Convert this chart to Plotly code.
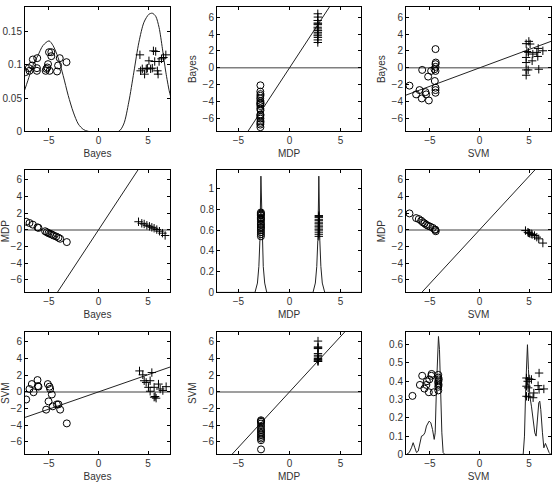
import plotly.graph_objects as go

# ---------------- data ----------------
var_names = ["Bayes", "MDP", "SVM"]

# Panel 1 (diag Bayes): density curve + jittered samples
bayes_dens_x = [-7.46, -7.12, -6.61, -6.10, -5.59, -4.98, -4.58, -4.07, -3.56, -3.05, -2.54, -2.03, -1.53, -1.02,
                2.03, 2.54, 3.05, 3.56, 4.07, 4.58, 5.08, 5.42, 5.76, 6.10, 6.44, 6.78, 7.12, 7.29]
bayes_dens_y = [0.061, 0.076, 0.099, 0.114, 0.129, 0.136, 0.129, 0.111, 0.084, 0.054, 0.029, 0.011, 0.003, 0.0,
                0.0, 0.011, 0.044, 0.089, 0.134, 0.164, 0.176, 0.1775, 0.173, 0.156, 0.124, 0.089, 0.061, 0.051]
p1_neg_x = [-7.36, -7.02, -6.68, -6.61, -6.17, -6.20, -6.20, -5.32, -5.25, -5.08, -5.15, -4.98, -4.75, -4.75, -4.92,
            -4.17, -4.07, -3.90, -3.22, -6.95]
p1_neg_y = [0.089, 0.095, 0.099, 0.108, 0.110, 0.095, 0.091, 0.091, 0.094, 0.101, 0.096, 0.119, 0.119, 0.113, 0.091,
            0.090, 0.099, 0.110, 0.104, 0.091]
p1_pos_x = [4.17, 4.41, 4.64, 4.81, 5.08, 5.25, 5.42, 5.53, 5.76, 5.66, 5.93, 6.00, 6.10, 6.34, 6.54, 6.78, 4.92, 4.24]
p1_pos_y = [0.115, 0.094, 0.086, 0.094, 0.106, 0.094, 0.095, 0.121, 0.120, 0.105, 0.091, 0.086, 0.105, 0.109, 0.111,
            0.115, 0.095, 0.091]

# Panel 2 (x=MDP, y=Bayes)
p2_neg_x = [-2.85, -2.86, -2.84, -2.85, -2.87, -2.85, -2.84, -2.86, -2.85, -2.85, -2.86, -2.84, -2.85, -2.85, -2.86,
            -2.85, -2.84, -2.85, -2.86, -2.85]
p2_neg_y = [-2.06, -2.8, -3.1, -3.3, -3.6, -3.9, -4.1, -4.2, -4.3, -4.5, -4.8, -5.0, -5.5, -5.6, -5.8, -6.0, -6.3,
            -6.5, -6.7, -7.0]
p2_pos_x = [2.77, 2.78, 2.76, 2.77, 2.78, 2.77, 2.76, 2.77, 2.78, 2.77, 2.77, 2.76, 2.78, 2.77, 2.77]
p2_pos_y = [6.39, 6.0, 5.6, 5.3, 5.2, 5.1, 4.8, 4.6, 4.4, 4.2, 4.0, 3.8, 3.6, 3.3, 3.0]
p2_slope = 1.84

# Panel 3 (x=SVM, y=Bayes)
p3_neg_x = [-7.05, -6.38, -6.04, -5.81, -5.77, -5.44, -5.37, -5.10, -5.17, -4.87, -4.53, -4.43, -4.43, -4.43, -4.43,
            -4.50, -4.43, -4.43, -4.43, -4.40]
p3_neg_y = [-2.1, -3.13, -2.62, -3.61, -0.24, -2.86, -3.13, -3.85, -1.03, -0.36, -0.16, 2.22, 0.44, 0.12, -0.36,
            -1.55, -2.34, -2.62, -2.94, 0.63]
p3_pos_x = [4.70, 4.97, 5.10, 4.77, 4.93, 5.37, 5.77, 5.91, 6.38, 5.87, 4.70, 5.30, 4.70, 4.90, 5.97, 4.70, 4.70]
p3_pos_y = [2.86, 3.13, 2.82, 1.94, 1.83, 1.63, 1.83, 2.30, 2.02, 1.35, 0.63, 0.83, -0.24, -0.24, -0.16, -0.87, 1.23]
p3_slope = 0.435

# Panel 4 (x=Bayes, y=MDP)
p4_neg_x = [-7.28, -6.95, -6.61, -6.14, -6.04, -5.37, -5.20, -5.03, -4.87, -4.70, -4.53, -4.26, -4.03, -3.86, -3.19]
p4_neg_y = [0.98, 0.83, 0.63, 0.31, 0.24, -0.16, -0.28, -0.39, -0.47, -0.55, -0.67, -0.79, -0.94, -1.06, -1.46]
p4_pos_x = [4.03, 4.36, 4.60, 4.87, 5.13, 5.37, 5.60, 5.87, 6.14, 6.44, 6.71]
p4_pos_y = [0.98, 0.79, 0.71, 0.55, 0.43, 0.31, 0.20, 0.04, -0.16, -0.39, -0.67]
p4_slope = 1.81

# Panel 5 (diag MDP)
mdp_dens_x = [-7.36, -3.38, -3.14, -3.00, -2.90, -2.84, -2.80, -2.74, -2.67, -2.57, -2.43, -2.23,
              2.30, 2.53, 2.67, 2.77, 2.84, 2.87, 2.91, 2.97, 3.07, 3.21, 3.45, 7.23]
mdp_dens_y = [0.0, 0.0, 0.09, 0.25, 0.50, 0.89, 1.12, 0.89, 0.50, 0.25, 0.09, 0.0,
              0.0, 0.09, 0.25, 0.50, 0.89, 1.12, 0.89, 0.50, 0.25, 0.09, 0.0, 0.0]
p5_neg_x = [-2.80] * 16
p5_neg_y = [0.54, 0.56, 0.58, 0.60, 0.62, 0.63, 0.65, 0.66, 0.68, 0.70, 0.71, 0.72, 0.74, 0.75, 0.76, 0.77]
p5_pos_x = [2.87] * 14
p5_pos_y = [0.54, 0.56, 0.58, 0.60, 0.61, 0.63, 0.64, 0.66, 0.67, 0.69, 0.70, 0.72, 0.73, 0.74]

# Panel 6 (x=SVM, y=MDP)
p6_neg_x = [-7.05, -6.38, -6.11, -5.87, -5.70, -5.54, -5.37, -5.20, -4.97, -4.70, -4.43, -4.40, -4.50]
p6_neg_y = [1.98, 1.42, 1.30, 1.11, 0.91, 0.79, 0.63, 0.51, 0.40, 0.24, 0.0, -0.16, 0.05]
p6_pos_x = [4.63, 4.87, 5.03, 5.30, 5.54, 5.77, 5.97, 6.38, 4.95, 5.20]
p6_pos_y = [-0.08, -0.28, -0.40, -0.55, -0.67, -0.87, -1.07, -1.58, -0.35, -0.47]
p6_slope = 1.29

# Panel 7 (x=Bayes, y=SVM)
p7_neg_x = [-7.28, -6.95, -6.71, -6.54, -6.14, -6.04, -5.27, -5.10, -5.03, -4.93, -4.87, -4.70, -4.60, -4.19, -4.03,
            -3.86, -3.19, -6.10]
p7_neg_y = [-0.91, 0.35, 0.94, -0.04, 1.42, 0.63, -2.13, 0.94, -1.14, 0.63, 0.35, -0.31, -1.73, -1.50, -1.50,
            -2.13, -3.78, 0.70]
p7_pos_x = [4.13, 4.46, 4.60, 4.80, 5.37, 5.20, 5.03, 5.20, 5.60, 5.60, 5.80, 5.70, 6.04, 6.21, 6.48, 6.81]
p7_pos_y = [2.52, 2.05, 1.34, 1.14, 2.32, 1.34, 0.55, 0.08, 0.55, -0.63, -0.75, -0.55, 0.94, 0.35, 0.16, 0.63]
p7_slope = 0.414

# Panel 8 (x=MDP, y=SVM)
p8_neg_x = [-2.79] * 14
p8_neg_y = [-3.4, -3.5, -3.6, -3.8, -4.1, -4.4, -4.6, -4.8, -5.0, -5.2, -5.4, -5.6, -5.8, -6.9]
p8_pos_x = [2.79] * 12
p8_pos_y = [6.1, 5.4, 5.3, 5.2, 4.6, 4.4, 4.2, 4.0, 3.9, 3.8, 3.7, 3.65]
p8_slope = 1.33

# Panel 9 (diag SVM)
svm_dens_x = [-7.35, -7.08, -6.85, -6.68, -6.51, -6.34, -6.17, -6.01, -5.84, -5.67, -5.50, -5.34, -5.07, -4.90,
              -4.73, -4.56, -4.46, -4.33, -4.23, -4.13, -4.03, -3.93, -3.79, -3.66, -3.49,
              4.40, 4.53, 4.66, 4.77, 4.83, 4.93, 5.07, 5.23, 5.40, 5.57, 5.70, 5.84, 5.97, 6.07, 6.17, 6.34,
              6.48, 6.64, 6.81, 7.01, 7.18]
svm_dens_y = [0.0, 0.01, 0.036, 0.064, 0.036, 0.01, 0.018, 0.064, 0.10, 0.104, 0.118, 0.155, 0.182, 0.173,
              0.136, 0.082, 0.118, 0.373, 0.573, 0.645, 0.573, 0.373, 0.118, 0.01, 0.0,
              0.0, 0.10, 0.373, 0.573, 0.60, 0.464, 0.318, 0.264, 0.19, 0.118, 0.10, 0.19, 0.282, 0.291, 0.245,
              0.118, 0.036, 0.06, 0.036, 0.01, 0.0]
p9_neg_x = [-6.75, -6.0, -5.77, -5.55, -5.35, -5.1, -5.05, -4.85, -4.82, -4.6, -4.15, -4.15, -4.15, -4.15, -4.15,
            -4.15, -4.1, -4.12, -5.3]
p9_neg_y = [0.32, 0.38, 0.43, 0.36, 0.38, 0.34, 0.41, 0.43, 0.44, 0.34, 0.435, 0.42, 0.40, 0.39, 0.37, 0.35, 0.41,
            0.38, 0.40]
p9_pos_x = [4.73, 5.0, 5.23, 4.73, 4.90, 4.73, 4.93, 5.40, 5.47, 6.0, 5.90, 6.0, 6.48, 4.85]
p9_pos_y = [0.418, 0.413, 0.41, 0.373, 0.364, 0.318, 0.315, 0.31, 0.336, 0.445, 0.376, 0.355, 0.358, 0.40]

diag_ranges = {1: [0, 0.187], 5: [0, 1.18], 9: [0, 0.67]}
diag_ticks = {1: [0, 0.05, 0.1, 0.15], 5: [0, 0.2, 0.4, 0.6, 0.8, 1], 9: [0, 0.1, 0.2, 0.3, 0.4, 0.5, 0.6]}
diag_ticktext = {1: ["0", "0.05", "0.1", "0.15"], 5: ["0", "0.2", "0.4", "0.6", "0.8", "1"],
                 9: ["0", "0.1", "0.2", "0.3", "0.4", "0.5", "0.6"]}

# ---------------- figure ----------------
W, H = 556, 493
col_px = [(25, 170), (217, 361), (406, 551)]
row_px = [(7, 133), (172, 296), (336, 460)]

fig = go.Figure()
FONT = "Liberation Sans, Arial, sans-serif"
TXT = "#333333"

def ax(i):
    return ("x" if i == 1 else f"x{i}"), ("y" if i == 1 else f"y{i}")

def add_pts(i, xs, ys, sym, size):
    xa, ya = ax(i)
    fig.add_trace(go.Scatter(x=xs, y=ys, mode="markers", xaxis=xa, yaxis=ya, showlegend=False,
                             marker=dict(symbol=sym, size=size, color="black",
                                         line=dict(color="black", width=1))))

def add_curve(i, xs, ys, shape="linear"):
    xa, ya = ax(i)
    fig.add_trace(go.Scatter(x=xs, y=ys, mode="lines", xaxis=xa, yaxis=ya, showlegend=False,
                             line=dict(color="#222222", width=1, shape=shape, smoothing=0.8 if shape == "spline" else None)))

scatter_xr = [-7.4, 7.2]
mdp_xr = [-7.1, 7.0]
scatter_yr = [-7.5, 7.2]

panels = {
    2: (p2_neg_x, p2_neg_y, p2_pos_x, p2_pos_y, p2_slope, mdp_xr),
    3: (p3_neg_x, p3_neg_y, p3_pos_x, p3_pos_y, p3_slope, scatter_xr),
    4: (p4_neg_x, p4_neg_y, p4_pos_x, p4_pos_y, p4_slope, scatter_xr),
    6: (p6_neg_x, p6_neg_y, p6_pos_x, p6_pos_y, p6_slope, scatter_xr),
    7: (p7_neg_x, p7_neg_y, p7_pos_x, p7_pos_y, p7_slope, scatter_xr),
    8: (p8_neg_x, p8_neg_y, p8_pos_x, p8_pos_y, p8_slope, mdp_xr),
}

# diagonal panels
add_curve(1, bayes_dens_x, bayes_dens_y, "spline")
add_pts(1, p1_neg_x, p1_neg_y, "circle-open", 7)
add_pts(1, p1_pos_x, p1_pos_y, "cross-thin-open", 6)
add_curve(5, mdp_dens_x, mdp_dens_y)
add_pts(5, p5_neg_x, p5_neg_y, "circle-open", 7)
add_pts(5, p5_pos_x, p5_pos_y, "cross-thin-open", 6)
add_curve(9, svm_dens_x, svm_dens_y)
add_pts(9, p9_neg_x, p9_neg_y, "circle-open", 7)
add_pts(9, p9_pos_x, p9_pos_y, "cross-thin-open", 6)

for i, (nx, ny, px, py, slope, xr) in panels.items():
    xa, ya = ax(i)
    # zero reference line
    fig.add_trace(go.Scatter(x=xr, y=[0, 0], mode="lines", xaxis=xa, yaxis=ya, showlegend=False,
                             line=dict(color="#7f7f7f", width=1.5)))
    # regression line through origin
    lx = [xr[0], xr[1]]
    fig.add_trace(go.Scatter(x=lx, y=[slope * v for v in lx], mode="lines", xaxis=xa, yaxis=ya,
                             showlegend=False, line=dict(color="#222222", width=1)))
    add_pts(i, nx, ny, "circle-open", 7)
    add_pts(i, px, py, "cross-thin-open", 6)

layout = dict(width=W, height=H, margin=dict(l=0, r=0, t=0, b=0),
              paper_bgcolor="white", plot_bgcolor="white",
              font=dict(family=FONT, size=10, color=TXT))

for r in range(3):
    for c in range(3):
        i = r * 3 + c + 1
        x0, x1 = col_px[c]
        y0, y1 = row_px[r]
        xkey = "xaxis" if i == 1 else f"xaxis{i}"
        ykey = "yaxis" if i == 1 else f"yaxis{i}"
        common = dict(showline=True, linecolor="black", linewidth=1, mirror="ticks", ticks="inside",
                      ticklen=3, tickcolor="black", showgrid=False, zeroline=False,
                      tickfont=dict(family=FONT, size=10, color=TXT))
        xr = mdp_xr if c == 1 else scatter_xr
        layout[xkey] = dict(common, domain=[x0 / W, x1 / W], range=xr, tickvals=[-5, 0, 5],
                            ticktext=["\u22125", "0", "5"], anchor=ax(i)[1],
                            title=dict(text=var_names[c], standoff=4, font=dict(family=FONT, size=10, color=TXT)))
        if r == c:
            yd = dict(range=diag_ranges[i], tickvals=diag_ticks[i], ticktext=diag_ticktext[i])
            ytitle = None
        else:
            yd = dict(range=scatter_yr, tickvals=[-6, -4, -2, 0, 2, 4, 6],
                      ticktext=["\u22126", "\u22124", "\u22122", "0", "2", "4", "6"])
            ytitle = var_names[r]
        layout[ykey] = dict(common, domain=[1 - y1 / H, 1 - y0 / H], anchor=ax(i)[0], **yd)
        if ytitle:
            layout[ykey]["title"] = dict(text=ytitle, standoff=4, font=dict(family=FONT, size=10, color=TXT))

fig.update_layout(**layout)
fig.write_html("out.html")
